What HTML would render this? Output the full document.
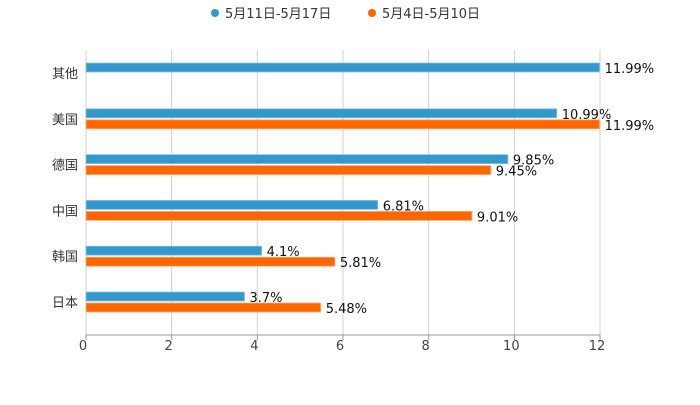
<!DOCTYPE html>
<html><head><meta charset="utf-8"><style>
body{margin:0;background:#fff;}
svg{font-family:"DejaVu Sans","Liberation Sans","Noto Sans CJK SC",sans-serif;}
</style></head><body>
<svg id="c" width="700" height="400"></svg>
<script>
const categories=["其他","美国","德国","中国","韩国","日本"];
const seriesA=[11.99,10.99,9.85,6.81,4.1,3.7];
const seriesB=[null,11.99,9.45,9.01,5.81,5.48];
const labelsA=["11.99%","10.99%","9.85%","6.81%","4.1%","3.7%"];
const labelsB=["","11.99%","9.45%","9.01%","5.81%","5.48%"];
const ticks=[0,2,4,6,8,10,12];
const seriesNames=["5月11日-5月17日","5月4日-5月10日"];
const colors=["#3399cc","#ff6600"];
const NS="http://www.w3.org/2000/svg";
const svg=document.getElementById('c');
const x0=86,x1=600,yTop=50,yBot=335;
const x=v=>x0+(v/12)*(x1-x0);
const yc=i=>73+i*45.8;
function mk(t,a,p){const e=document.createElementNS(NS,t);for(const k in a)e.setAttribute(k,a[k]);(p||svg).appendChild(e);return e;}
ticks.forEach(t=>{
 const g=mk('line',{x1:x(t),x2:x(t),y1:yTop,y2:yBot,stroke:'#d0d0d0','stroke-width':1});
 
 
 const tm=mk('line',{x1:x(t),x2:x(t),y1:yBot,y2:yBot+5,stroke:'#999'});
 
 
 const tx=mk('text',{x:x(t)-3,y:350,'text-anchor':'middle','font-size':13,fill:'#444'});
 tx.textContent=t;
 
 
});
const ax=mk('line',{x1:x0,x2:x1,y1:yBot,y2:yBot,stroke:'#999'});


categories.forEach((c,i)=>{
 const l=mk('text',{x:78,y:yc(i)+5,'text-anchor':'end','font-size':13,fill:'#333'});
 l.textContent=c;
 
 
 [[seriesA,labelsA,-10],[seriesB,labelsB,1]].forEach(([s,lb,off],k)=>{
  const v=s[i]; if(v==null) return;
  const r=mk('rect',{x:x0,y:yc(i)+off,width:x(v)-x0,height:9,fill:colors[k],stroke:k?'#ffaa77':'#88c4e2','stroke-width':0.8});
  
  
  const t=mk('text',{x:x(v)+5,y:yc(i)+off+10,'font-size':13,fill:'#111'});
  t.textContent=lb[i];
  
  
 });
});
const lx=[215,372];
seriesNames.forEach((n,k)=>{
 const g=mk('g',{});
 
 
 mk('circle',{cx:lx[k],cy:13,r:4,fill:colors[k]},g);
 const t=mk('text',{x:lx[k]+10,y:18,'font-size':13,fill:'#333'},g);
 t.textContent=n;
});
</script>
</body></html>
